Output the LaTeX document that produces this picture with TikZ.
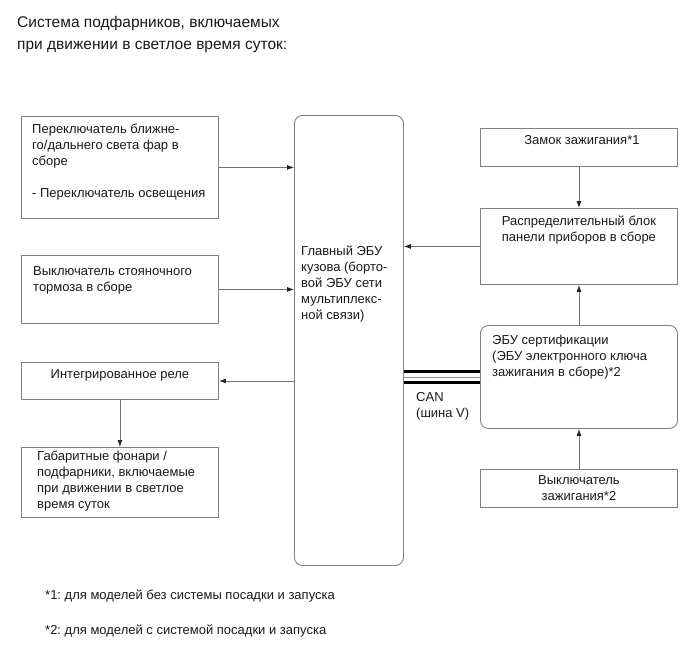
\documentclass[tikz,border=0pt]{standalone}
\usepackage{fontspec}
\setmainfont{Liberation Sans}
\frenchspacing
\usetikzlibrary{arrows.meta,positioning}
\tikzset{
  blk/.style={draw=black!50,line width=0.9pt,minimum width=197pt,inner sep=0pt,anchor=north west},
  rblk/.style={blk,rounded corners=8pt},
  txt/.style={font=\fontsize{13}{16}\selectfont,inner sep=0pt,align=left,text=black!90},
  arr/.style={-{Latex[length=7pt,width=5pt,black!85]},draw=black!55,line width=0.8pt},
  canw/.style={line width=2.6pt,black},
}

\begin{document}
\begin{tikzpicture}[x=1pt,y=-1pt]
 \useasboundingbox (0,0) rectangle (690,659);
 % title
 \node[txt,font=\fontsize{15.5}{22}\selectfont,anchor=north west] (title) at (17,16)
   {Система подфарников, включаемых\\при движении в светлое время суток:};

 % left column
 \node[blk,minimum height=102pt,label={[txt,anchor=north west,xshift=11pt,yshift=-8pt]north west:Переключатель ближне-\\го/дальнего света фар в\\сборе\\[16pt]- Переключатель освещения}] (hls) at (21,116) {};
 \node[blk,minimum height=68pt,label={[txt,anchor=north west,xshift=12pt,yshift=-11pt]north west:Выключатель стояночного\\тормоза в сборе}] (pbk) at (21,255) {};
 \node[blk,minimum height=37pt,label={[txt,anchor=north,yshift=-7pt]north:Интегрированное реле}] (rly) at (21,362) {};
 \node[blk,minimum height=70pt,label={[txt,anchor=north west,xshift=16pt,yshift=-4pt]north west:Габаритные фонари /\\подфарники, включаемые\\при движении в светлое\\время суток}] (lmp) at (21,447) {};

 % main ECU
 \node[rblk,minimum width=109pt,minimum height=450pt,label={[txt,anchor=north west,xshift=7pt,yshift=-131pt]north west:Главный ЭБУ\\кузова (борто-\\вой ЭБУ сети\\мультиплекс-\\ной связи)}] (bcm) at (294,115) {};

 % right column
 \node[blk,minimum height=38pt,label={[txt,anchor=north,xshift=3pt,yshift=-7pt]north:Замок зажигания*1}] (lck) at (480,128) {};
 \node[blk,minimum height=76pt,label={[txt,anchor=north,align=center,yshift=-8pt]north:Распределительный блок\\панели приборов в сборе}] (jb) at (480,208) {};
 \node[rblk,minimum height=103pt,label={[txt,anchor=north west,xshift=12pt,yshift=-10pt]north west:ЭБУ сертификации\\(ЭБУ электронного ключа\\зажигания в сборе)*2}] (cert) at (480,325) {};
 \node[blk,minimum height=38pt,label={[txt,align=center]center:Выключатель\\зажигания*2}] (ign) at (480,469) {};

 % connections
 \draw[arr] (hls.east) -- (hls.east -| bcm.west);
 \draw[arr] (pbk.east) -- (pbk.east -| bcm.west);
 \draw[arr] (rly.east -| bcm.west) -- (rly.east);
 \draw[arr] (rly.south) -- (lmp.north -| rly.south);
 \draw[arr] (jb.west) -- (jb.west -| bcm.east);
 \draw[arr] (lck.south) -- (jb.north);
 \draw[arr] (cert.north) -- (jb.south);
 \draw[arr] (ign.north) -- (cert.south);

 % CAN bus
 \draw[canw] ([yshift=5.5pt]cert.west) -- ([yshift=5.5pt]cert.west -| bcm.east);
 \draw[black!45,line width=0.8pt] (cert.west) -- (cert.west -| bcm.east);
 \draw[canw] ([yshift=-5.5pt]cert.west) -- ([yshift=-5.5pt]cert.west -| bcm.east);
 \node[txt,anchor=north west] (can) at (416,392) {CAN\\(шина V)};

 % notes
 \node[txt,font=\fontsize{13}{35}\selectfont,anchor=north west] (notes) at (45,590)
   {*1: для моделей без системы посадки и запуска\\*2: для моделей с системой посадки и запуска};
\end{tikzpicture}
\end{document}
